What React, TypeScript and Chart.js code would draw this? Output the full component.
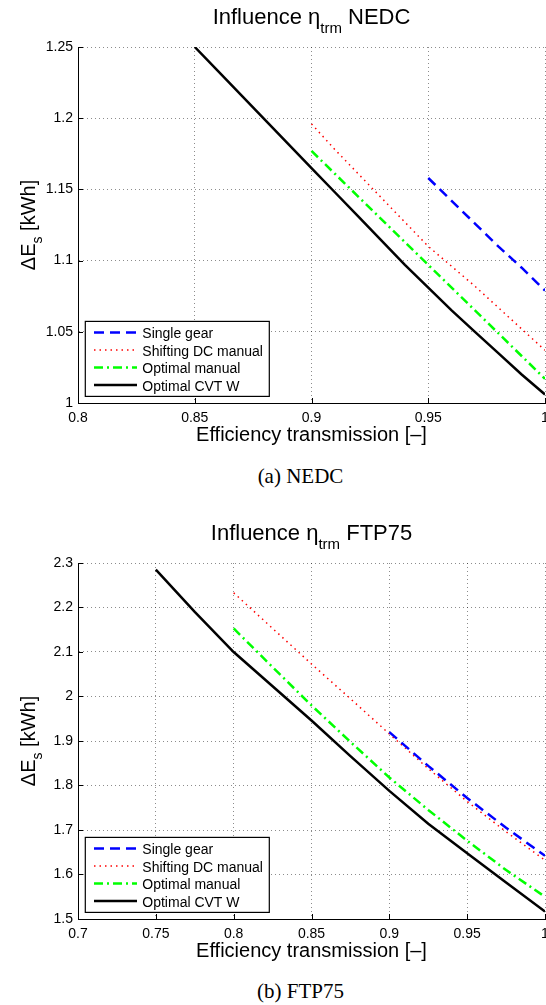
import React, { useEffect, useRef } from "react";
import { Chart, registerables } from "chart.js";

Chart.register(...registerables);

const FONT = "'Liberation Sans', Arial, Helvetica, sans-serif";

// ---- shared series meta ----
const seriesLabels = ["Single gear", "Shifting DC manual", "Optimal manual", "Optimal CVT W"];
const seriesColors = ["#0000ff", "#ff0000", "#00ff00", "#000000"];
const seriesDashes = [[10, 6], [1.5, 4], [9, 4, 2, 4], []];
const seriesWidths = [2.5, 1.5, 2.5, 2.5];

// ---- NEDC ----
const nedcEta = [0.85, 0.86, 0.87, 0.88, 0.89, 0.9, 0.91, 0.92, 0.93, 0.94, 0.95, 0.96, 0.97, 0.98, 0.99, 1.0];
const nedcSingleGear = [null, null, null, null, null, null, null, null, null, null, 1.158, 1.142, 1.126, 1.110, 1.095, 1.079];
const nedcShiftingDC = [null, null, null, null, null, 1.196, 1.178, 1.161, 1.144, 1.127, 1.110, 1.096, 1.082, 1.067, 1.052, 1.037];
const nedcOptManual = [null, null, null, null, null, 1.177, 1.161, 1.145, 1.129, 1.113, 1.097, 1.081, 1.065, 1.049, 1.033, 1.017];
const nedcOptCVT = [1.25, 1.233, 1.216, 1.199, 1.182, 1.165, 1.148, 1.131, 1.114, 1.097, 1.081, 1.065, 1.050, 1.035, 1.020, 1.006];
const nedcXTicks = [0.8, 0.85, 0.9, 0.95, 1];
const nedcYTicks = [1, 1.05, 1.1, 1.15, 1.2, 1.25];

// ---- FTP75 ----
const ftpEta = [0.75, 0.775, 0.8, 0.825, 0.85, 0.875, 0.9, 0.925, 0.95, 0.975, 1.0];
const ftpSingleGear = [null, null, null, null, null, null, 1.920, 1.844, 1.772, 1.705, 1.642];
const ftpShiftingDC = [null, null, 2.233, 2.153, 2.073, 1.995, 1.916, 1.838, 1.764, 1.696, 1.632];
const ftpOptManual = [null, null, 2.153, 2.066, 1.980, 1.898, 1.818, 1.745, 1.676, 1.610, 1.550];
const ftpOptCVT = [2.285, 2.19, 2.1, 2.023, 1.946, 1.866, 1.788, 1.714, 1.648, 1.582, 1.517];
const ftpXTicks = [0.7, 0.75, 0.8, 0.85, 0.9, 0.95, 1];
const ftpYTicks = [1.5, 1.6, 1.7, 1.8, 1.9, 2, 2.1, 2.2, 2.3];

const fmt = (v: number) => String(Number(v.toFixed(3)));

const decorPlugin = {
  id: "decor",
  afterDraw(chart: any, _args: any, opts: any) {
    const { ctx, chartArea } = chart;
    ctx.save();
    ctx.fillStyle = "#000";
    ctx.textBaseline = "alphabetic";

    // Title with subscript
    const mainF = `22px ${FONT}`;
    const subF = `15px ${FONT}`;
    ctx.font = mainF;
    const w1 = ctx.measureText(opts.titleMain).width;
    const w3 = ctx.measureText(opts.titleEnd).width;
    ctx.font = subF;
    const w2 = ctx.measureText(opts.titleSub).width;
    const total = w1 + w2 + w3;
    const cx = (chartArea.left + chartArea.right) / 2;
    let x = cx - total / 2;
    const by = chartArea.top - 23;
    ctx.textAlign = "left";
    ctx.font = mainF;
    ctx.fillText(opts.titleMain, x, by);
    x += w1;
    ctx.font = subF;
    ctx.fillText(opts.titleSub, x, by + 9);
    x += w2;
    ctx.font = mainF;
    ctx.fillText(opts.titleEnd, x, by);

    // Y-axis label with subscript, rotated
    const yF = `20px ${FONT}`;
    const ySubF = `14px ${FONT}`;
    ctx.font = yF;
    const a1 = ctx.measureText(opts.yMain).width;
    const a3 = ctx.measureText(opts.yEnd).width;
    ctx.font = ySubF;
    const a2 = ctx.measureText(opts.ySub).width;
    const ytot = a1 + a2 + a3;
    const cy = (chartArea.top + chartArea.bottom) / 2;
    ctx.save();
    ctx.translate(35, cy);
    ctx.rotate(-Math.PI / 2);
    let t = -ytot / 2;
    ctx.font = yF;
    ctx.fillText(opts.yMain, t, 0);
    t += a1;
    ctx.font = ySubF;
    ctx.fillText(opts.ySub, t, 6.5);
    t += a2;
    ctx.font = yF;
    ctx.fillText(opts.yEnd, t, 0);
    ctx.restore();

    // inward major ticks
    ctx.strokeStyle = "#000";
    ctx.lineWidth = 1;
    ctx.setLineDash([]);
    const xs = chart.scales.x;
    const ys = chart.scales.y;
    ctx.beginPath();
    xs.ticks.forEach((tk: any) => {
      const px = Math.round(xs.getPixelForValue(tk.value)) + 0.5;
      ctx.moveTo(px, chartArea.bottom);
      ctx.lineTo(px, chartArea.bottom - 5);
    });
    ys.ticks.forEach((tk: any) => {
      const py = Math.round(ys.getPixelForValue(tk.value)) + 0.5;
      ctx.moveTo(chartArea.left, py);
      ctx.lineTo(chartArea.left + 5, py);
    });
    ctx.stroke();

    // Legend box
    const lx = chartArea.left + 7.3;
    const lh = 75;
    const lw = 184;
    const ly = chartArea.bottom - 6.6 - lh;
    ctx.fillStyle = "#fff";
    ctx.fillRect(lx, ly, lw, lh);
    ctx.strokeStyle = "#000";
    ctx.lineWidth = 1.2;
    ctx.strokeRect(lx, ly, lw, lh);
    ctx.font = `14px ${FONT}`;
    chart.data.datasets.forEach((ds: any, i: number) => {
      const base = ly + 16.6 + 17.5 * i;
      const lineY = base - 5.5;
      ctx.save();
      ctx.strokeStyle = ds.borderColor;
      ctx.lineWidth = ds.borderWidth;
      ctx.setLineDash(ds.borderDash || []);
      ctx.beginPath();
      ctx.moveTo(lx + 8.7, lineY);
      ctx.lineTo(lx + 51.7, lineY);
      ctx.stroke();
      ctx.restore();
      ctx.fillStyle = "#000";
      ctx.fillText(ds.label, lx + 57, base);
    });
    ctx.restore();
  },
};

type Cfg = {
  eta: number[];
  series: (number | null)[][];
  xTicks: number[];
  yTicks: number[];
  titleEnd: string;
};

function EffChart({ cfg }: { cfg: Cfg }) {
  const ref = useRef<HTMLCanvasElement | null>(null);
  useEffect(() => {
    if (!ref.current) return;
    const datasets = cfg.series.map((vals, i) => ({
      label: seriesLabels[i],
      data: cfg.eta.map((x, j) => ({ x, y: vals[j] })),
      borderColor: seriesColors[i],
      backgroundColor: seriesColors[i],
      borderWidth: seriesWidths[i],
      borderDash: seriesDashes[i],
      pointRadius: 0,
      tension: 0,
      fill: false,
      spanGaps: false,
    }));
    const xMin = cfg.xTicks[0];
    const xMax = cfg.xTicks[cfg.xTicks.length - 1];
    const yMin = cfg.yTicks[0];
    const yMax = cfg.yTicks[cfg.yTicks.length - 1];
    const chart = new Chart(ref.current, {
      type: "line",
      data: { datasets: datasets as any },
      plugins: [decorPlugin as any],
      options: {
        animation: false,
        responsive: false,
        devicePixelRatio: 1,
        layout: { padding: { top: 47, left: 0, right: 1, bottom: 0 } },
        plugins: {
          legend: { display: false },
          title: { display: false },
          tooltip: { enabled: false },
          decor: {
            titleMain: "Influence η",
            titleSub: "trm",
            titleEnd: cfg.titleEnd,
            yMain: "ΔE",
            ySub: "s",
            yEnd: " [kWh]",
          },
        } as any,
        scales: {
          x: {
            type: "linear",
            min: xMin,
            max: xMax,
            afterBuildTicks: (s: any) => {
              s.ticks = cfg.xTicks.map((v) => ({ value: v }));
            },
            afterFit: (s: any) => {
              s.height = 52;
              s.paddingLeft = 0;
              s.paddingRight = 0;
            },
            ticks: {
              autoSkip: false,
              maxRotation: 0,
              padding: 7,
              color: "#000",
              font: { family: FONT, size: 14 },
              callback: (v: any) => fmt(Number(v)),
            },
            grid: { color: "rgba(0,0,0,0.45)", lineWidth: 1, drawTicks: false },
            border: { display: true, color: "#000", width: 1, dash: [1, 3] },
            title: {
              display: true,
              text: "Efficiency transmission [–]",
              color: "#000",
              font: { family: FONT, size: 20 },
              padding: { top: 0, bottom: 8 },
            },
          },
          y: {
            type: "linear",
            min: yMin,
            max: yMax,
            afterBuildTicks: (s: any) => {
              s.ticks = cfg.yTicks.map((v) => ({ value: v }));
            },
            afterFit: (s: any) => {
              s.width = 78;
              s.paddingTop = 0;
              s.paddingBottom = 0;
            },
            ticks: {
              autoSkip: false,
              padding: 5,
              color: "#000",
              font: { family: FONT, size: 14 },
              callback: (v: any) => fmt(Number(v)),
            },
            grid: { color: "rgba(0,0,0,0.45)", lineWidth: 1, drawTicks: false },
            border: { display: true, color: "#000", width: 1, dash: [1, 3] },
          },
        },
      } as any,
    });
    return () => chart.destroy();
  }, [cfg]);
  return <canvas ref={ref} width={546} height={455} style={{ display: "block", width: 546, height: 455 }} />;
}

const nedcCfg: Cfg = {
  eta: nedcEta,
  series: [nedcSingleGear, nedcShiftingDC, nedcOptManual, nedcOptCVT],
  xTicks: nedcXTicks,
  yTicks: nedcYTicks,
  titleEnd: " NEDC",
};
const ftpCfg: Cfg = {
  eta: ftpEta,
  series: [ftpSingleGear, ftpShiftingDC, ftpOptManual, ftpOptCVT],
  xTicks: ftpXTicks,
  yTicks: ftpYTicks,
  titleEnd: " FTP75",
};

const captionStyle: React.CSSProperties = {
  position: "absolute",
  left: 200,
  width: 201,
  textAlign: "center",
  fontFamily: "'Liberation Serif', 'Times New Roman', serif",
  fontSize: 21,
  lineHeight: "21px",
  color: "#000",
  whiteSpace: "nowrap",
};

export default function App() {
  return (
    <div style={{ position: "absolute", left: 0, top: 0, width: 546, height: 1005, overflow: "hidden", background: "#fff" }}>
      <div style={{ position: "absolute", left: 0, top: 0 }}>
        <EffChart cfg={nedcCfg} />
      </div>
      <div style={{ ...captionStyle, top: 466 }}>(a) NEDC</div>
      <div style={{ position: "absolute", left: 0, top: 516 }}>
        <EffChart cfg={ftpCfg} />
      </div>
      <div style={{ ...captionStyle, top: 981 }}>(b) FTP75</div>
    </div>
  );
}
